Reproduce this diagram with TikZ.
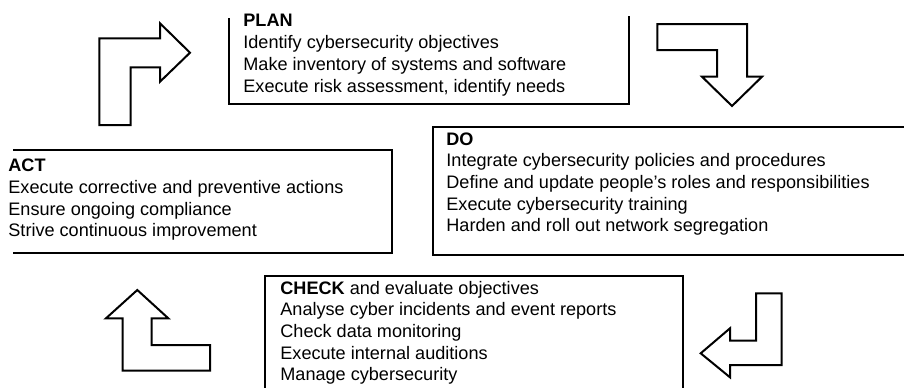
\documentclass[tikz,border=0pt]{standalone}
\usepackage{fontspec}
\setmainfont{Liberation Sans}
\begin{document}
\begin{tikzpicture}[x=0.5pt,y=-0.5pt,
  frame/.style={line width=1.3pt, line join=miter, line cap=rect},
  bentarrow/.style={draw, line width=1pt, line join=miter, fill=white},
  txt/.style={anchor=base west, inner sep=0pt, font=\fontsize{9.05}{11}\selectfont}]
\useasboundingbox (0,0) rectangle (904,387);

% PLAN panel
\draw[frame] (229,19) -- (229,104) -- (629,104) -- (629,17);
\node[txt] (plan0) at (243,26.7) {\textbf{PLAN}};
\node[txt] (plan1) at (243,48.6) {Identify cybersecurity objectives};
\node[txt] (plan2) at (243,70.5) {Make inventory of systems and software};
\node[txt] (plan3) at (243,92.4) {Execute risk assessment, identify needs};

% ACT panel
\draw[frame] (14,150) -- (392,150) -- (392,253) -- (14,253);
\node[txt] (act0) at (8,171.7) {\textbf{ACT}};
\node[txt] (act1) at (8,193.4) {Execute corrective and preventive actions};
\node[txt] (act2) at (8,215.1) {Ensure ongoing compliance};
\node[txt] (act3) at (8,236.8) {Strive continuous improvement};

% DO panel
\draw[frame] (906,127) -- (433,127) -- (433,255) -- (906,255);
\node[txt] (do0) at (446,145) {\textbf{DO}};
\node[txt] (do1) at (446,166.7) {Integrate cybersecurity policies and procedures};
\node[txt] (do2) at (446,188.4) {Define and update people’s roles and responsibilities};
\node[txt] (do3) at (446,210.1) {Execute cybersecurity training};
\node[txt] (do4) at (446,231.8) {Harden and roll out network segregation};

% CHECK panel
\draw[frame] (265,390) -- (265,276) -- (683,276) -- (683,390);
\node[txt] (check0) at (280,294) {\textbf{CHECK} and evaluate objectives};
\node[txt] (check1) at (280,315.7) {Analyse cyber incidents and event reports};
\node[txt] (check2) at (280,337.4) {Check data monitoring};
\node[txt] (check3) at (280,359.1) {Execute internal auditions};
\node[txt] (check4) at (280,380.8) {Manage cybersecurity};

% cycle arrows
\draw[bentarrow] (99.3,125) -- (99.3,38.3) -- (160,38.3) -- (160,23.3) -- (190,52.7)
  -- (160,81.7) -- (160,67.3) -- (130.7,67.3) -- (130.7,125) -- cycle;
\draw[bentarrow] (657.3,24) -- (747,24) -- (747,76.7) -- (762,76.7) -- (732,106)
  -- (702,76.7) -- (717,76.7) -- (717,50) -- (657.3,50) -- cycle;
\draw[bentarrow] (137.3,290) -- (168.3,318.3) -- (151.7,318.3) -- (151.7,345) -- (210,345)
  -- (210,370.7) -- (122.7,370.7) -- (122.7,318.3) -- (106,318.3) -- cycle;
\draw[bentarrow] (756,293.3) -- (781.7,293.3) -- (781.7,365) -- (730,365) -- (730,377.3)
  -- (700.7,353.3) -- (730,328.3) -- (730,340.7) -- (756,340.7) -- cycle;
\end{tikzpicture}
\end{document}
